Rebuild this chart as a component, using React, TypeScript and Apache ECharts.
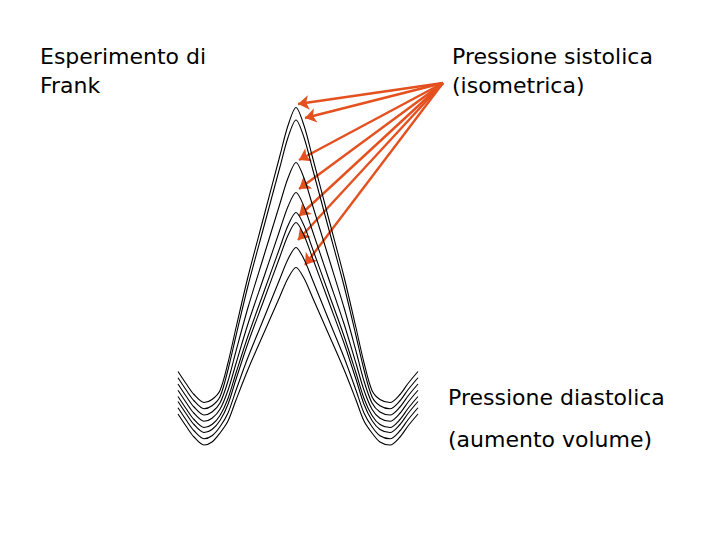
import React, { useEffect, useRef } from "react";
import * as echarts from "echarts";

// time samples (ms) shared by all curves
const times = [8, 16, 24, 34, 42, 50, 58, 66, 78, 94, 110, 118, 126, 134, 142, 158, 174, 186, 194, 202, 210, 220, 230, 238, 248];

// pressure traces (arbitrary mmHg), one per filling volume
const curve1 = [35.4, 30.6, 26.2, 23, 24.2, 27.8, 38.9, 52.9, 73.3, 97.6, 121.9, 133.8, 141, 133.8, 121.9, 97.6, 73.3, 52.9, 38.9, 27.8, 24.2, 23, 26.2, 30.6, 35.4];
const curve2 = [32.9, 28.1, 23.7, 20.5, 21.7, 25.3, 36.1, 49.7, 69.7, 93.5, 117.3, 129.0, 136, 129.0, 117.3, 93.5, 69.7, 49.7, 36.1, 25.3, 21.7, 20.5, 23.7, 28.1, 32.9];
const curve3 = [30.4, 25.6, 21.2, 18, 19.2, 22.8, 31.6, 43.6, 61.0, 81.8, 102.6, 112.8, 119, 112.8, 102.6, 81.8, 61.0, 43.6, 31.6, 22.8, 19.2, 18, 21.2, 25.6, 30.4];
const curve4 = [27.9, 23.1, 18.7, 15.5, 16.7, 20.3, 27.9, 38.6, 54.5, 73.3, 92.2, 101.4, 107, 101.4, 92.2, 73.3, 54.5, 38.6, 27.9, 20.3, 16.7, 15.5, 18.7, 23.1, 27.9];
const curve5 = [25.4, 20.6, 16.2, 13, 14.2, 17.8, 24.6, 34.8, 49.6, 67.4, 85.1, 93.8, 99, 93.8, 85.1, 67.4, 49.6, 34.8, 24.6, 17.8, 14.2, 13, 16.2, 20.6, 25.4];
const curve6 = [23.4, 18.6, 14.2, 11, 12.2, 15.8, 22.3, 32.3, 46.8, 64.1, 81.4, 89.9, 95, 89.9, 81.4, 64.1, 46.8, 32.3, 22.3, 15.8, 12.2, 11, 14.2, 18.6, 23.4];
const curve7 = [20.9, 16.1, 11.7, 8.5, 9.7, 13.3, 18.8, 27.9, 41.1, 56.8, 72.6, 80.3, 85, 80.3, 72.6, 56.8, 41.1, 27.9, 18.8, 13.3, 9.7, 8.5, 11.7, 16.1, 20.9];
const curve8 = [18.4, 13.6, 9.2, 6, 7.2, 10.8, 15.6, 24.0, 36.2, 50.9, 65.5, 72.7, 77, 72.7, 65.5, 50.9, 36.2, 24.0, 15.6, 10.8, 7.2, 6, 9.2, 13.6, 18.4];
const curves = [curve1, curve2, curve3, curve4, curve5, curve6, curve7, curve8];

// arrows: common origin and tips at systolic peaks
const arrowSource = [273, 150.8];
const arrowTipT = [128, 135, 129, 129, 129, 128, 135];
const arrowTipP = [142.4, 136.8, 120, 108.4, 97.6, 88, 78];

const titleLines = ["Esperimento di", "Frank"];
const systolicLabel = ["Pressione sistolica", "(isometrica)"];
const diastolicLabel = ["Pressione diastolica", "(aumento volume)"];

export default function App() {
  const ref = useRef<HTMLDivElement>(null);

  useEffect(() => {
    if (!ref.current) return;
    const chart = echarts.init(ref.current, null, { renderer: "svg" });
    const font = "DejaVu Sans";
    const txt = (text: string, x: number, y: number) => ({
      type: "text",
      x,
      y,
      style: {
        text,
        fill: "#000",
        fontSize: 22,
        fontFamily: font,
        textAlign: "left",
        textVerticalAlign: "middle",
        verticalAlign: "middle",
      },
    });

    const lineSeries = curves.map((vals, i) => ({
      type: "line",
      name: "c" + i,
      data: times.map((t, j) => [t, vals[j]]),
      smooth: 0.3,
      symbol: "none",
      lineStyle: { color: "#000", width: 1.1 },
      silent: true,
    }));

    chart.setOption({
      animation: false,
      backgroundColor: "#fff",
      grid: { left: 170, top: 80, width: 300, height: 380 },
      xAxis: { type: "value", min: 0, max: 300, show: false },
      yAxis: { type: "value", min: 0, max: 152, show: false },
      series: [
        ...lineSeries,
        {
          type: "lines",
          coordinateSystem: "cartesian2d",
          clip: false,
          symbol: ["none", "arrow"],
          symbolSize: 11,
          lineStyle: { color: "#e4501e", width: 2.4, opacity: 1 },
          data: arrowTipT.map((t, i) => ({
            coords: [arrowSource, [t, arrowTipP[i]]],
          })),
          silent: true,
        },
      ],
      graphic: [
        txt(titleLines[0], 40, 56),
        txt(titleLines[1], 40, 85),
        txt(systolicLabel[0], 452, 56),
        txt(systolicLabel[1], 452, 85),
        txt(diastolicLabel[0], 448, 397),
        txt(diastolicLabel[1], 448, 439),
      ],
    });
    return () => chart.dispose();
  }, []);

  return (
    <div
      ref={ref}
      style={{ position: "absolute", left: 0, top: 0, width: 720, height: 540 }}
    />
  );
}
